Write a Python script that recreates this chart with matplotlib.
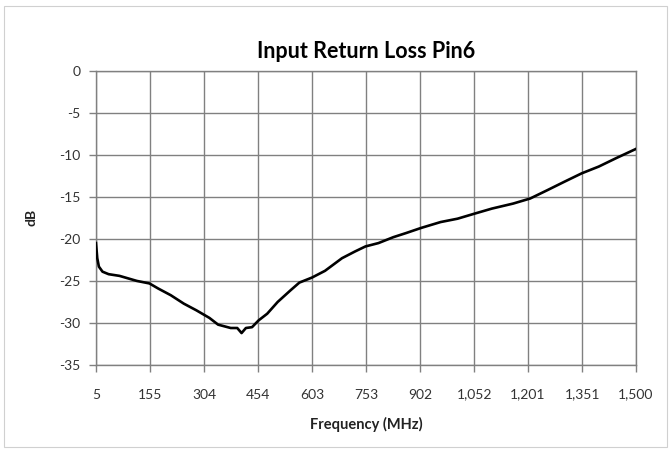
#!/usr/bin/env python3
"""Input return loss (pin 6) versus frequency, Excel-style line chart."""

import matplotlib
matplotlib.use("Agg")
import matplotlib.pyplot as plt
from matplotlib.patches import Rectangle

FREQ_MHZ = [5, 8.5, 13, 23, 40, 70, 94, 118, 153, 177, 212, 248, 283, 319, 343,
            378, 396, 408, 420, 437, 455, 479, 508, 544, 568, 603, 639, 686, 722,
            751, 787, 828, 864, 905, 959, 1006, 1053, 1101, 1160, 1207, 1255,
            1302, 1350, 1397, 1445, 1500]
RETURN_LOSS_DB = [-20.5, -22.3, -23.3, -23.9, -24.2, -24.4, -24.7, -25.0, -25.3,
                  -25.9, -26.7, -27.7, -28.5, -29.4, -30.2, -30.6, -30.6, -31.2,
                  -30.6, -30.5, -29.7, -28.9, -27.5, -26.1, -25.2, -24.6, -23.8,
                  -22.3, -21.5, -20.9, -20.5, -19.8, -19.3, -18.7, -18.0, -17.6,
                  -17.0, -16.4, -15.8, -15.2, -14.2, -13.2, -12.2, -11.4, -10.4, -9.3]

X_TICKS = [5, 155, 304, 454, 603, 753, 902, 1052, 1201, 1351, 1500]
X_TICK_LABELS = ["5", "155", "304", "454", "603", "753", "902", "1,052",
                 "1,201", "1,351", "1,500"]
Y_TICKS = [0, -5, -10, -15, -20, -25, -30, -35]

GRID = "#808080"
TEXT = "#333333"

plt.rcParams["font.family"] = ["Lato", "DejaVu Sans"]
plt.rcParams["axes.unicode_minus"] = False

fig = plt.figure(figsize=(6.71, 4.51), dpi=100)
fig.patches.append(Rectangle((4 / 671, 4 / 451), 663 / 671, 441 / 451,
                             transform=fig.transFigure, fill=False,
                             edgecolor="#d0d0d0", linewidth=0.8))

ax = fig.add_axes([96 / 671, 1 - 365 / 451, 540 / 671, 294.3 / 451])
ax.plot(FREQ_MHZ, RETURN_LOSS_DB, color="black", linewidth=1.9, zorder=3)

ax.set_xlim(5, 1500)
ax.set_ylim(-35, 0)
ax.set_xticks(X_TICKS)
ax.set_xticklabels(X_TICK_LABELS)
ax.set_yticks(Y_TICKS)
ax.grid(True, color=GRID, linewidth=1.0)
for s in ax.spines.values():
    s.set_color(GRID)
    s.set_linewidth(1.0)
ax.tick_params(colors=GRID, labelcolor=TEXT, labelsize=10, length=5, width=1.0)
ax.tick_params(axis="x", pad=12)
ax.tick_params(axis="y", pad=6)

ax.set_title("Input Return Loss Pin6", fontsize=15.5, fontweight="bold", pad=9)
ax.set_xlabel("Frequency (MHz)", fontsize=10.5, fontweight="bold", color="#222222", labelpad=12)
ax.set_ylabel("dB", fontsize=10, fontweight="bold", color="#222222", labelpad=16)

fig.savefig("out.png", dpi=100)
